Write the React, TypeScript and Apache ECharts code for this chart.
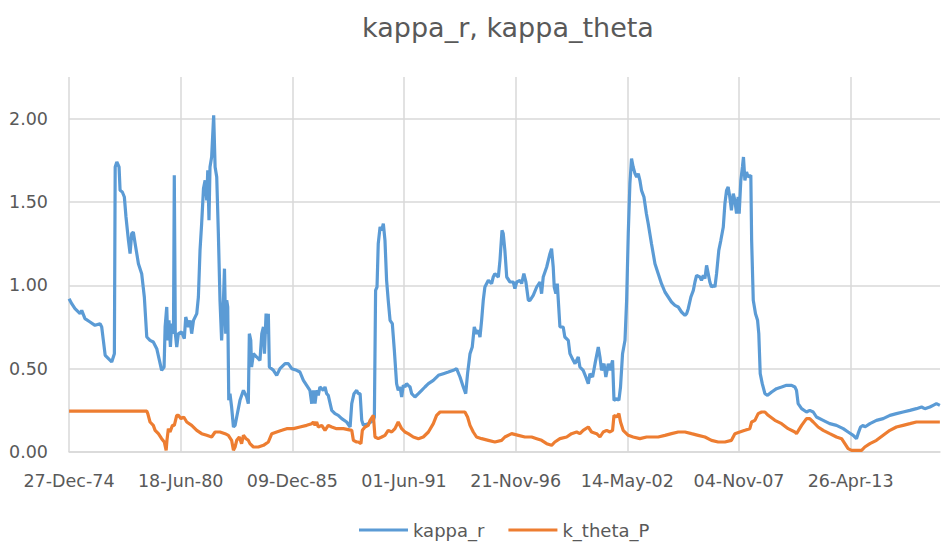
import React, { useEffect, useRef } from "react";
import * as echarts from "echarts";

const kappaR: [number, number][] = [
  [1974.99, 0.92], [1975.12, 0.89], [1975.28, 0.86], [1975.53, 0.83], [1975.61, 0.85], [1975.77, 0.80],
  [1976.02, 0.78], [1976.26, 0.76], [1976.51, 0.77], [1976.59, 0.75], [1976.67, 0.67], [1976.76, 0.58],
  [1976.92, 0.56], [1977.08, 0.54], [1977.21, 0.59], [1977.25, 1.71], [1977.33, 1.74], [1977.44, 1.71],
  [1977.49, 1.57], [1977.60, 1.56], [1977.70, 1.53], [1977.78, 1.41], [1977.90, 1.27], [1977.98, 1.19],
  [1978.06, 1.31], [1978.14, 1.32], [1978.23, 1.25], [1978.39, 1.13], [1978.55, 1.07], [1978.68, 0.93],
  [1978.80, 0.69], [1978.96, 0.67], [1979.12, 0.66], [1979.29, 0.62], [1979.42, 0.55], [1979.53, 0.49],
  [1979.65, 0.51], [1979.70, 0.75], [1979.78, 0.87], [1979.83, 0.67], [1979.89, 0.79], [1979.96, 0.63],
  [1980.02, 0.77], [1980.11, 0.71], [1980.15, 1.66], [1980.20, 0.71], [1980.27, 0.63], [1980.35, 0.71],
  [1980.51, 0.72], [1980.64, 0.68], [1980.71, 0.81], [1980.84, 0.75], [1980.92, 0.79], [1981.00, 0.71],
  [1981.09, 0.79], [1981.25, 0.83], [1981.33, 0.93], [1981.41, 1.21], [1981.49, 1.37], [1981.58, 1.58],
  [1981.66, 1.63], [1981.74, 1.51], [1981.79, 1.69], [1981.85, 1.39], [1981.90, 1.71], [1981.98, 1.77],
  [1982.08, 2.02], [1982.15, 1.71], [1982.23, 1.65], [1982.31, 1.31], [1982.39, 0.91], [1982.47, 0.67],
  [1982.56, 0.91], [1982.61, 1.10], [1982.67, 0.71], [1982.72, 0.91], [1982.77, 0.87], [1982.82, 0.31],
  [1982.88, 0.35], [1982.96, 0.27], [1983.05, 0.15], [1983.13, 0.16], [1983.21, 0.21], [1983.37, 0.31],
  [1983.54, 0.37], [1983.62, 0.35], [1983.70, 0.33], [1983.78, 0.29], [1983.83, 0.71], [1983.90, 0.67],
  [1983.94, 0.51], [1984.03, 0.59], [1984.19, 0.57], [1984.35, 0.55], [1984.44, 0.71], [1984.52, 0.75],
  [1984.57, 0.59], [1984.65, 0.83], [1984.71, 0.71], [1984.76, 0.83], [1984.81, 0.51], [1985.01, 0.49],
  [1985.17, 0.46], [1985.33, 0.50], [1985.58, 0.53], [1985.74, 0.53], [1985.91, 0.50], [1986.15, 0.49],
  [1986.31, 0.48], [1986.48, 0.43], [1986.64, 0.40], [1986.80, 0.37], [1986.89, 0.29], [1986.97, 0.37],
  [1987.05, 0.29], [1987.13, 0.37], [1987.21, 0.34], [1987.29, 0.39], [1987.46, 0.37], [1987.54, 0.39],
  [1987.62, 0.35], [1987.70, 0.34], [1987.87, 0.25], [1988.03, 0.23], [1988.19, 0.22], [1988.36, 0.20],
  [1988.60, 0.18], [1988.77, 0.15], [1988.85, 0.29], [1988.96, 0.35], [1989.09, 0.37], [1989.17, 0.35],
  [1989.26, 0.35], [1989.34, 0.19], [1989.42, 0.16], [1989.66, 0.17], [1989.91, 0.19], [1989.96, 0.21],
  [1990.02, 0.97], [1990.09, 0.99], [1990.15, 1.25], [1990.24, 1.35], [1990.32, 1.33], [1990.40, 1.37],
  [1990.48, 1.27], [1990.56, 1.03], [1990.64, 0.91], [1990.73, 0.79], [1990.84, 0.77], [1990.94, 0.61],
  [1991.05, 0.41], [1991.13, 0.37], [1991.22, 0.39], [1991.30, 0.33], [1991.38, 0.40], [1991.46, 0.39],
  [1991.54, 0.41], [1991.62, 0.40], [1991.71, 0.39], [1991.79, 0.35], [1991.95, 0.33], [1992.12, 0.35],
  [1992.28, 0.37], [1992.44, 0.39], [1992.61, 0.41], [1992.85, 0.43], [1993.10, 0.46], [1993.34, 0.47],
  [1993.59, 0.48], [1993.83, 0.49], [1993.99, 0.50], [1994.16, 0.45], [1994.32, 0.39], [1994.44, 0.35],
  [1994.53, 0.47], [1994.65, 0.59], [1994.76, 0.63], [1994.86, 0.75], [1994.97, 0.71], [1995.06, 0.73],
  [1995.14, 0.69], [1995.22, 0.79], [1995.30, 0.91], [1995.38, 0.99], [1995.55, 1.03], [1995.71, 1.01],
  [1995.79, 1.05], [1995.87, 1.07], [1996.04, 1.05], [1996.12, 1.15], [1996.22, 1.33], [1996.28, 1.31],
  [1996.36, 1.21], [1996.45, 1.05], [1996.61, 1.02], [1996.77, 1.02], [1996.85, 0.98], [1996.94, 1.02],
  [1997.10, 1.03], [1997.18, 1.01], [1997.29, 1.07], [1997.39, 1.02], [1997.51, 0.91], [1997.59, 0.91],
  [1997.75, 0.94], [1997.92, 0.99], [1998.08, 1.02], [1998.16, 0.95], [1998.24, 1.05], [1998.41, 1.11],
  [1998.57, 1.19], [1998.65, 1.22], [1998.73, 1.11], [1998.78, 0.99], [1998.86, 0.95], [1998.93, 1.01],
  [1998.98, 0.91], [1999.06, 0.75], [1999.22, 0.75], [1999.30, 0.69], [1999.47, 0.67], [1999.55, 0.59],
  [1999.71, 0.55], [1999.80, 0.53], [1999.96, 0.57], [2000.04, 0.51], [2000.20, 0.49], [2000.33, 0.45],
  [2000.45, 0.41], [2000.53, 0.47], [2000.66, 0.45], [2000.78, 0.53], [2000.94, 0.63], [2001.02, 0.57],
  [2001.10, 0.49], [2001.22, 0.53], [2001.31, 0.45], [2001.43, 0.53], [2001.51, 0.49], [2001.64, 0.55],
  [2001.71, 0.31], [2001.84, 0.32], [2001.95, 0.31], [2002.03, 0.39], [2002.13, 0.59], [2002.25, 0.67],
  [2002.33, 0.91], [2002.41, 1.31], [2002.49, 1.61], [2002.57, 1.76], [2002.65, 1.71], [2002.74, 1.67],
  [2002.82, 1.65], [2002.90, 1.67], [2002.98, 1.63], [2003.06, 1.57], [2003.18, 1.53], [2003.30, 1.43],
  [2003.39, 1.37], [2003.55, 1.25], [2003.72, 1.13], [2003.88, 1.07], [2004.04, 1.01], [2004.21, 0.96],
  [2004.37, 0.93], [2004.53, 0.90], [2004.70, 0.88], [2004.86, 0.87], [2005.02, 0.84], [2005.19, 0.82],
  [2005.27, 0.83], [2005.35, 0.86], [2005.48, 0.93], [2005.60, 0.97], [2005.68, 1.02], [2005.76, 1.06],
  [2005.92, 1.05], [2006.00, 1.03], [2006.09, 1.06], [2006.17, 1.04], [2006.25, 1.12], [2006.33, 1.07],
  [2006.41, 1.02], [2006.49, 0.99], [2006.58, 1.00], [2006.66, 0.99], [2006.74, 1.07], [2006.85, 1.21],
  [2006.95, 1.27], [2007.07, 1.35], [2007.15, 1.49], [2007.23, 1.57], [2007.31, 1.59], [2007.39, 1.53],
  [2007.47, 1.45], [2007.56, 1.55], [2007.64, 1.51], [2007.72, 1.43], [2007.80, 1.53], [2007.85, 1.43],
  [2007.93, 1.63], [2008.01, 1.71], [2008.06, 1.77], [2008.13, 1.63], [2008.21, 1.68], [2008.29, 1.65],
  [2008.42, 1.66], [2008.46, 1.27], [2008.54, 0.91], [2008.65, 0.83], [2008.75, 0.79], [2008.81, 0.71],
  [2008.88, 0.47], [2008.98, 0.41], [2009.11, 0.35], [2009.24, 0.34], [2009.44, 0.36], [2009.68, 0.38],
  [2009.93, 0.39], [2010.17, 0.40], [2010.42, 0.40], [2010.58, 0.39], [2010.66, 0.37], [2010.74, 0.29],
  [2010.91, 0.26], [2011.15, 0.24], [2011.31, 0.25], [2011.48, 0.24], [2011.64, 0.21], [2011.97, 0.19],
  [2012.29, 0.17], [2012.62, 0.16], [2012.95, 0.14], [2013.19, 0.12], [2013.44, 0.10], [2013.60, 0.08],
  [2013.68, 0.11], [2013.80, 0.15], [2013.93, 0.16], [2014.01, 0.15], [2014.26, 0.17], [2014.58, 0.19],
  [2014.91, 0.20], [2015.24, 0.22], [2015.56, 0.23], [2015.89, 0.24], [2016.22, 0.25], [2016.54, 0.26],
  [2016.79, 0.27], [2016.95, 0.26], [2017.20, 0.27], [2017.36, 0.28], [2017.52, 0.29], [2017.69, 0.28],
];

const kThetaP: [number, number][] = [
  [1974.99, 0.245], [1978.80, 0.245], [1978.85, 0.23], [1978.96, 0.18], [1979.12, 0.16], [1979.21, 0.13],
  [1979.37, 0.11], [1979.53, 0.08], [1979.66, 0.06], [1979.75, 0.01], [1979.79, 0.07], [1979.86, 0.14],
  [1979.94, 0.12], [1980.06, 0.16], [1980.15, 0.16], [1980.27, 0.22], [1980.35, 0.22], [1980.48, 0.20],
  [1980.61, 0.21], [1980.76, 0.18], [1981.00, 0.16], [1981.25, 0.13], [1981.49, 0.11], [1981.74, 0.10],
  [1981.98, 0.09], [1982.15, 0.12], [1982.39, 0.12], [1982.64, 0.11], [1982.80, 0.10], [1982.96, 0.07],
  [1983.05, 0.01], [1983.13, 0.03], [1983.21, 0.07], [1983.34, 0.09], [1983.45, 0.05], [1983.54, 0.10],
  [1983.67, 0.08], [1983.78, 0.07], [1983.86, 0.05], [1984.03, 0.03], [1984.27, 0.03], [1984.52, 0.04],
  [1984.76, 0.06], [1984.93, 0.11], [1985.17, 0.12], [1985.42, 0.13], [1985.66, 0.14], [1985.99, 0.14],
  [1986.31, 0.15], [1986.64, 0.16], [1986.89, 0.17], [1986.97, 0.18], [1987.05, 0.16], [1987.13, 0.18],
  [1987.21, 0.15], [1987.38, 0.16], [1987.54, 0.13], [1987.70, 0.16], [1987.87, 0.15], [1988.11, 0.14],
  [1988.44, 0.14], [1988.85, 0.13], [1988.93, 0.07], [1989.09, 0.06], [1989.17, 0.06], [1989.30, 0.05],
  [1989.37, 0.13], [1989.50, 0.15], [1989.66, 0.16], [1989.75, 0.19], [1989.91, 0.22], [1989.99, 0.09],
  [1990.15, 0.08], [1990.32, 0.09], [1990.48, 0.10], [1990.64, 0.13], [1990.81, 0.12], [1990.97, 0.14],
  [1991.13, 0.18], [1991.30, 0.14], [1991.46, 0.12], [1991.62, 0.11], [1991.87, 0.09], [1992.12, 0.08],
  [1992.36, 0.09], [1992.61, 0.12], [1992.85, 0.17], [1993.01, 0.22], [1993.18, 0.24], [1994.40, 0.24],
  [1994.53, 0.21], [1994.65, 0.16], [1994.81, 0.12], [1994.97, 0.09], [1995.22, 0.08], [1995.55, 0.07],
  [1995.87, 0.06], [1996.20, 0.07], [1996.36, 0.09], [1996.69, 0.11], [1997.02, 0.10], [1997.34, 0.09],
  [1997.67, 0.09], [1997.92, 0.08], [1998.16, 0.07], [1998.41, 0.05], [1998.65, 0.04], [1998.81, 0.06],
  [1999.06, 0.08], [1999.39, 0.09], [1999.63, 0.11], [1999.88, 0.12], [2000.04, 0.11], [2000.20, 0.13],
  [2000.45, 0.15], [2000.61, 0.12], [2000.86, 0.11], [2001.02, 0.09], [2001.18, 0.12], [2001.35, 0.13],
  [2001.51, 0.12], [2001.64, 0.13], [2001.71, 0.22], [2001.84, 0.21], [2001.95, 0.23], [2002.03, 0.18],
  [2002.16, 0.13], [2002.41, 0.10], [2002.65, 0.09], [2002.98, 0.08], [2003.31, 0.09], [2003.55, 0.09],
  [2003.88, 0.09], [2004.21, 0.10], [2004.53, 0.11], [2004.86, 0.12], [2005.19, 0.12], [2005.51, 0.11],
  [2005.84, 0.10], [2006.17, 0.09], [2006.49, 0.07], [2006.82, 0.06], [2007.15, 0.06], [2007.47, 0.07],
  [2007.64, 0.11], [2007.88, 0.12], [2008.13, 0.13], [2008.37, 0.14], [2008.46, 0.18], [2008.62, 0.19],
  [2008.78, 0.23], [2008.95, 0.24], [2009.11, 0.24], [2009.27, 0.22], [2009.60, 0.19], [2009.93, 0.17],
  [2010.25, 0.14], [2010.58, 0.12], [2010.66, 0.11], [2010.91, 0.16], [2011.15, 0.20], [2011.31, 0.20],
  [2011.48, 0.18], [2011.72, 0.15], [2011.97, 0.13], [2012.29, 0.11], [2012.62, 0.09], [2012.87, 0.08],
  [2013.03, 0.05], [2013.19, 0.02], [2013.36, 0.01], [2013.85, 0.01], [2014.01, 0.03], [2014.26, 0.05],
  [2014.58, 0.07], [2014.91, 0.10], [2015.24, 0.13], [2015.56, 0.15], [2015.89, 0.16], [2016.22, 0.17],
  [2016.54, 0.18], [2017.20, 0.18], [2017.69, 0.18],
];

const SERIES_NAMES = ["kappa_r", "k_theta_P"];
const TITLE = "kappa_r, kappa_theta";
const START_DATE = Date.UTC(1974, 11, 27); // 27-Dec-74, first axis label
const TICK_DAYS = 2000;
const X_MAX_DAYS = 15600;
const Y_MAX = 2.25;
const Y_STEP = 0.5;

const DAY = 86400000;
const MONTHS = ["Jan", "Feb", "Mar", "Apr", "May", "Jun", "Jul", "Aug", "Sep", "Oct", "Nov", "Dec"];

function yearToDays(y: number): number {
  const Y = Math.floor(y);
  const s = Date.UTC(Y, 0, 1);
  const e = Date.UTC(Y + 1, 0, 1);
  return (s + (y - Y) * (e - s) - START_DATE) / DAY;
}

function fmtDate(d: number): string {
  const dt = new Date(START_DATE + Math.round(d) * DAY);
  const dd = String(dt.getUTCDate()).padStart(2, "0");
  const yy = String(dt.getUTCFullYear() % 100).padStart(2, "0");
  return `${dd}-${MONTHS[dt.getUTCMonth()]}-${yy}`;
}

const FONT = "'DejaVu Sans', 'Noto Sans', sans-serif";
const TEXT_COLOR = "#595959";
const GRID_COLOR = "#d9d9d9";

export default function App() {
  const ref = useRef<HTMLDivElement>(null);
  useEffect(() => {
    if (!ref.current) return;
    const chart = echarts.init(ref.current, undefined, { renderer: "svg" });
    chart.setOption({
      animation: false,
      backgroundColor: "#ffffff",
      textStyle: { fontFamily: FONT },
      graphic: [
        {
          type: "text",
          x: 508,
          y: 27,
          style: {
            text: TITLE,
            fontFamily: FONT,
            fontSize: 27,
            fill: TEXT_COLOR,
            align: "center",
            verticalAlign: "middle",
          },
        },
      ],
      grid: { left: 69, right: 1, top: 77, bottom: 91, containLabel: false },
      xAxis: {
        type: "value",
        min: 0,
        max: X_MAX_DAYS,
        interval: TICK_DAYS,
        axisLine: { show: true, lineStyle: { color: GRID_COLOR, width: 1.5 } },
        axisTick: { show: false },
        axisLabel: {
          formatter: (v: number) => fmtDate(v),
          showMaxLabel: false,
          margin: 20,
          color: TEXT_COLOR,
          fontFamily: FONT,
          fontSize: 17.5,
        },
        splitLine: { show: true, showMaxLine: false, lineStyle: { color: GRID_COLOR, width: 1.5 } },
      },
      yAxis: {
        type: "value",
        min: 0,
        max: Y_MAX,
        interval: Y_STEP,
        axisLine: { show: false },
        axisTick: { show: false },
        axisLabel: {
          formatter: (v: number) => v.toFixed(2),
          showMaxLabel: false,
          margin: 21,
          color: TEXT_COLOR,
          fontFamily: FONT,
          fontSize: 17.5,
        },
        splitLine: { show: true, showMaxLine: false, lineStyle: { color: GRID_COLOR, width: 1.5 } },
      },
      legend: {
        left: 359,
        top: 521,
        padding: 0,
        icon: "rect",
        itemWidth: 49,
        itemHeight: 3,
        itemGap: 24,
        data: SERIES_NAMES,
        textStyle: { color: TEXT_COLOR, fontFamily: FONT, fontSize: 18 },
      },
      series: [
        {
          name: SERIES_NAMES[0],
          type: "line",
          data: kappaR.map(([y, v]) => [yearToDays(y), v]),
          showSymbol: false,
          symbol: "none",
          lineStyle: { color: "#5B9BD5", width: 3.2 },
          itemStyle: { color: "#5B9BD5" },
        },
        {
          name: SERIES_NAMES[1],
          type: "line",
          data: kThetaP.map(([y, v]) => [yearToDays(y), v]),
          showSymbol: false,
          symbol: "none",
          lineStyle: { color: "#ED7D31", width: 3.2 },
          itemStyle: { color: "#ED7D31" },
        },
      ],
    });
    return () => chart.dispose();
  }, []);
  return <div ref={ref} style={{ width: 941, height: 543, position: "absolute", left: 0, top: 0 }} />;
}
